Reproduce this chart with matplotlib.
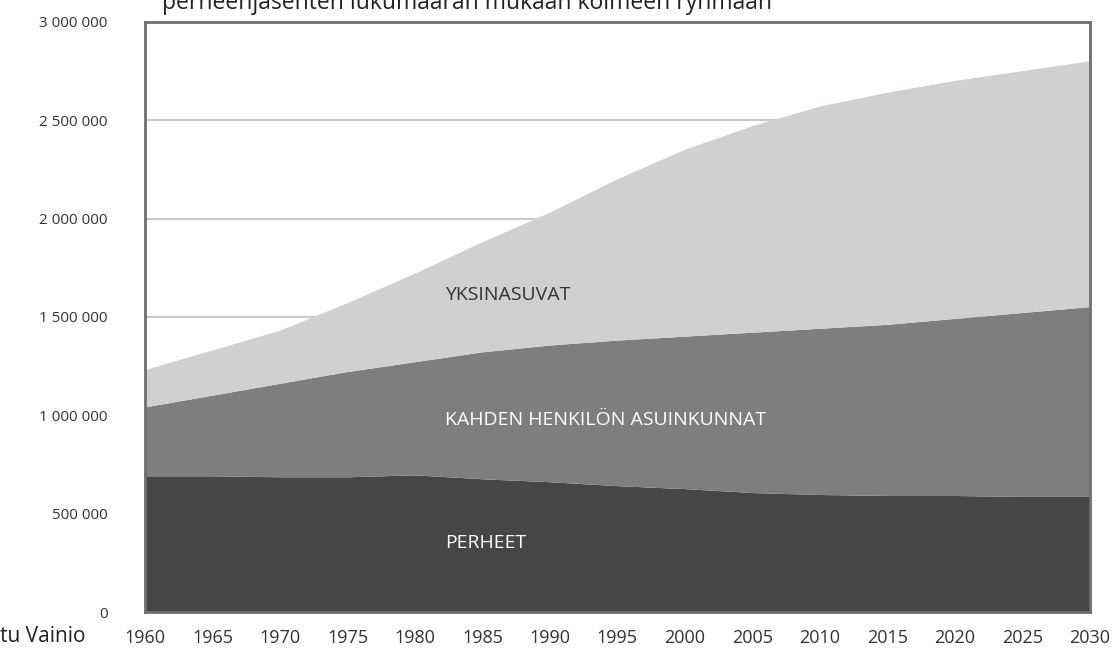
import matplotlib
matplotlib.use("Agg")
from matplotlib import pyplot as plt

years = [1960, 1965, 1970, 1975, 1980, 1985, 1990, 1995, 2000, 2005, 2010, 2015, 2020, 2025, 2030]

# cumulative levels
perheet = [690000, 690000, 685000, 685000, 695000, 675000, 660000, 640000, 625000, 605000,
           595000, 590000, 590000, 585000, 585000]
kahden_top = [1040000, 1100000, 1160000, 1220000, 1270000, 1320000, 1355000, 1380000, 1400000,
              1420000, 1440000, 1460000, 1490000, 1520000, 1550000]
total = [1230000, 1330000, 1430000, 1570000, 1720000, 1880000, 2030000, 2200000, 2350000,
         2470000, 2570000, 2640000, 2700000, 2750000, 2800000]

kahden = [b - a for a, b in zip(perheet, kahden_top)]
yksin = [b - a for a, b in zip(kahden_top, total)]

labels = ["PERHEET", "KAHDEN HENKILÖN ASUINKUNNAT", "YKSINASUVAT"]
colors = ["#464646", "#7e7e7e", "#cfd1d0"]

yticks = [0, 500000, 1000000, 1500000, 2000000, 2500000, 3000000]
ytick_labels = ["0", "500 000", "1 000 000", "1 500 000", "2 000 000", "2 500 000", "3 000 000"]
xticks = list(range(1960, 2031, 5))

plt.rcParams['font.family'] = ['Open Sans', 'DejaVu Sans']

fig = plt.figure(figsize=(11.2, 6.54), dpi=100)
ax = fig.add_axes([0.1295, 0.0642, 0.8435, 0.9022])

for y in yticks[1:-1]:
    ax.axhline(y, color="#c9c9c9", lw=1.5, zorder=0)

ax.stackplot(years, perheet, kahden, yksin, colors=colors, lw=0, zorder=1)

ax.set_xlim(1960, 2030)
ax.set_ylim(0, 3000000)
ax.set_xticks(xticks)
ax.set_xticklabels([str(x) for x in xticks], fontsize=13, color="#333333")
ax.set_yticks(yticks)
ax.set_yticklabels(ytick_labels, fontsize=11, color="#333333")
ax.tick_params(length=0)
ax.tick_params(axis="y", pad=27)
ax.tick_params(axis="x", pad=12)

for s in ax.spines.values():
    s.set_color("#6e6e6e")
    s.set_linewidth(2)

ax.text(1982.2, 1610000, labels[2], fontsize=14, color="#333333", va="center")
ax.text(1982.2, 975000, labels[1], fontsize=14, color="white", va="center")
ax.text(1982.2, 350000, labels[0], fontsize=14, color="white", va="center")

fig.text(0.417, 0.987, "perheenjäsenten lukumäärän mukaan kolmeen ryhmään",
         fontsize=16.5, ha="center", va="baseline", color="#222222")
fig.text(0.0, 0.026, "tu Vainio", fontsize=15, ha="left", va="center", color="#222222")

fig.savefig("out.png", dpi=100)
